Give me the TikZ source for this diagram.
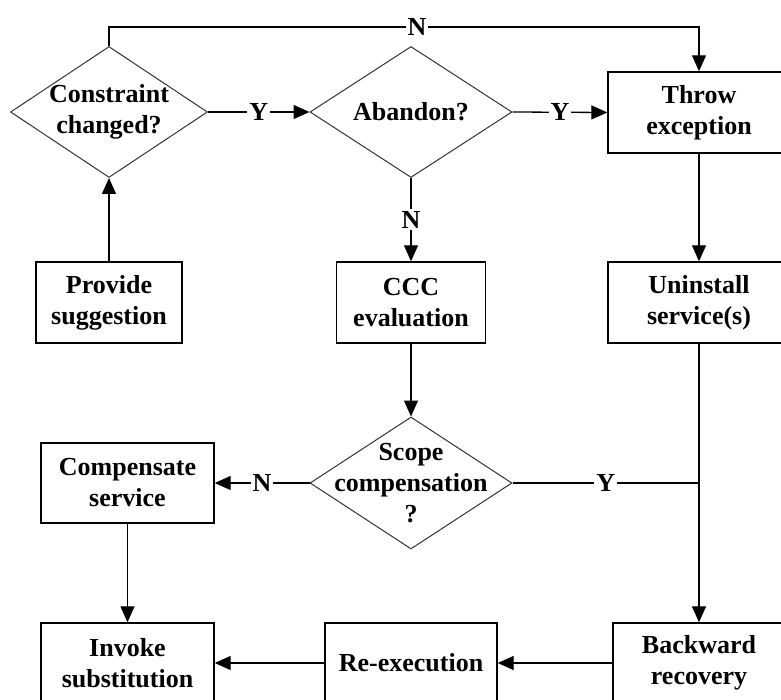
\documentclass[tikz,border=0pt]{standalone}
\usepackage{fontspec}
\setmainfont{Liberation Serif}
\usetikzlibrary{shapes.geometric,arrows.meta}
\begin{document}
\begin{tikzpicture}[x=1pt,y=-1pt,
  txt/.style={font=\fontsize{26}{31}\selectfont\bfseries, align=center},
  box/.style={draw, line width=1.4pt, rectangle, inner sep=0pt, txt},
  decision/.style={draw, line width=1pt, diamond, inner sep=0pt, draw=black!80},
  arr/.style={line width=1.3pt, -{Triangle[length=16pt,width=14pt]}},
  ln/.style={line width=1.3pt},
  lbl/.style={fill=white, inner sep=2pt, txt}
]
\fill[white] (0,0) rectangle (781,700);
\useasboundingbox (0,0) rectangle (781,700);
\clip (0,0) rectangle (781,700);

% decisions
\node[decision, minimum width=197pt, minimum height=131pt,
      label={[txt]center:Constraint\\changed?}] (d1) at (109,112) {};
\node[decision, minimum width=202pt, minimum height=131pt,
      label={[txt]center:Abandon?}] (d2) at (411,112) {};
\node[decision, minimum width=202pt, minimum height=132pt,
      label={[txt]center:Scope\\compensation\\?}] (d3) at (411,483) {};

% process boxes
\node[box, minimum width=182pt, minimum height=81pt] (throw) at (699,112.5) {Throw\\exception};
\node[box, minimum width=146pt, minimum height=81pt] (prov) at (109,302.5) {Provide\\suggestion};
\node[box, minimum width=149pt, minimum height=81pt] (ccc) at (411,302.5) {CCC\\evaluation};
\node[box, minimum width=182pt, minimum height=81pt] (unin) at (699,302.5) {Uninstall\\service(s)};
\node[box, minimum width=173pt, minimum height=80pt] (comp) at (127.5,483) {Compensate\\service};
\node[box, minimum width=173pt, minimum height=80pt] (inv) at (127.5,663) {Invoke\\substitution};
\node[box, minimum width=172pt, minimum height=80pt] (reex) at (411,663) {Re-execution};
\node[box, minimum width=172pt, minimum height=80pt] (back) at (699,663) {Backward\\recovery};

\coordinate (top) at (109,27);
\coordinate (join) at (699,483);

% connectors
\draw[arr] (prov.north) -- (d1.south);
\draw[arr] (d1.east) -- node[lbl]{Y} (d2.west);
\draw[arr] (d2.east) -- node[lbl]{Y} (throw.west);
\draw[arr] (d1.north) -- (top) -| node[lbl, pos=0.261]{N} (throw.north);
\draw[arr] (d2.south) -- node[lbl]{N} (ccc.north);
\draw[arr] (throw.south) -- (unin.north);
\draw[arr] (ccc.south) -- (d3.north);
\draw[arr] (d3.west) -- node[lbl]{N} (comp.east);
\draw[arr] (unin.south) -- (back.north);
\draw[ln] (d3.east) -- node[lbl]{Y} (join);
\draw[arr] (comp.south) -- (inv.north);
\draw[arr] (back.west) -- (reex.east);
\draw[arr] (reex.west) -- (inv.east);
\end{tikzpicture}
\end{document}
